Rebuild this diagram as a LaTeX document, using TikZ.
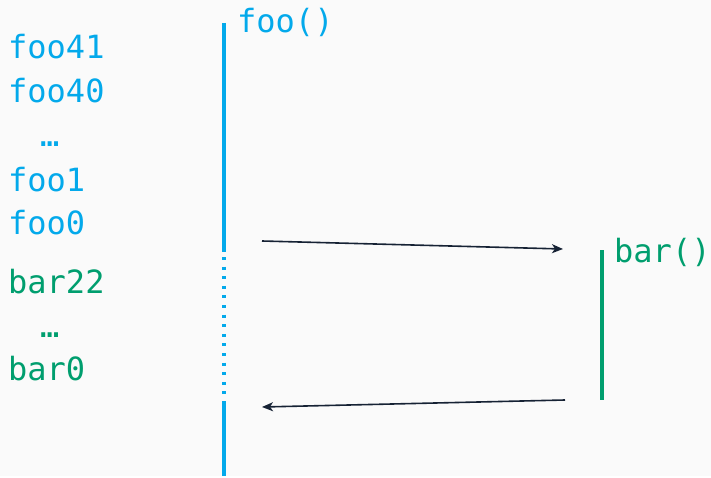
\documentclass[tikz,border=0pt]{standalone}
\usepackage{fontspec}
\newfontfamily\codefont{DejaVu Sans Mono}
\usetikzlibrary{arrows.meta, positioning}
\definecolor{foocol}{RGB}{3,169,235}
\definecolor{barcol}{RGB}{0,158,110}
\definecolor{arrcol}{RGB}{22,34,52}
\definecolor{bgcol}{RGB}{250,250,250}

\begin{document}
\begin{tikzpicture}[
  x=1pt, y=-1pt,
  lbl/.style={font=\codefont\fontsize{32}{38}\selectfont, inner sep=0pt, anchor=base west},
  foolbl/.style={lbl, text=foocol},
  barlbl/.style={lbl, text=barcol},
  fooline/.style={draw=foocol, line width=4pt},
  barline/.style={draw=barcol, line width=4pt},
  arr/.style={-{Stealth[length=11pt, width=9pt, inset=3pt]}, draw=arrcol, line width=1.6pt}
]
\fill[bgcol] (0,0) rectangle (711,476);
% stack on the left
\node[foolbl] (foo41) at (8,59)  {foo41};
\node[foolbl] (foo40) at (8,103) {foo40};
\node[foolbl] (foodots) at (40,147) {…};
\node[foolbl] (foo1)  at (8,192) {foo1};
\node[foolbl] (foo0)  at (8,234) {foo0};
\node[barlbl] (bar22) at (8,293) {bar22};
\node[barlbl] (bardots) at (40,337) {…};
\node[barlbl] (bar0)  at (8,380) {bar0};
% lifelines
\coordinate (fooA) at (224,23);
\coordinate (fooB) at (224,252);
\coordinate (fooC) at (224,257);
\coordinate (fooD) at (224,398);
\coordinate (fooE) at (224,401);
\coordinate (fooF) at (224,476);
\draw[fooline] (fooA) -- (fooB);
\draw[fooline, dash pattern=on 3pt off 6.6pt] (fooC) -- (fooD);
\draw[fooline] (fooE) -- (fooF);
\node[foolbl] (foofn) at (237,33) {foo()};
\coordinate (barA) at (602,250);
\coordinate (barB) at (602,400);
\draw[barline] (barA) -- (barB);
\node[barlbl] (barfn) at (614,262) {bar()};
% call and return
\coordinate (callsrc) at (262,241);
\coordinate (calldst) at (563,249);
\coordinate (retsrc)  at (565,400);
\coordinate (retdst)  at (262,407);
\draw[arr] (callsrc) -- (calldst);
\draw[arr] (retsrc) -- (retdst);
\end{tikzpicture}
\end{document}
